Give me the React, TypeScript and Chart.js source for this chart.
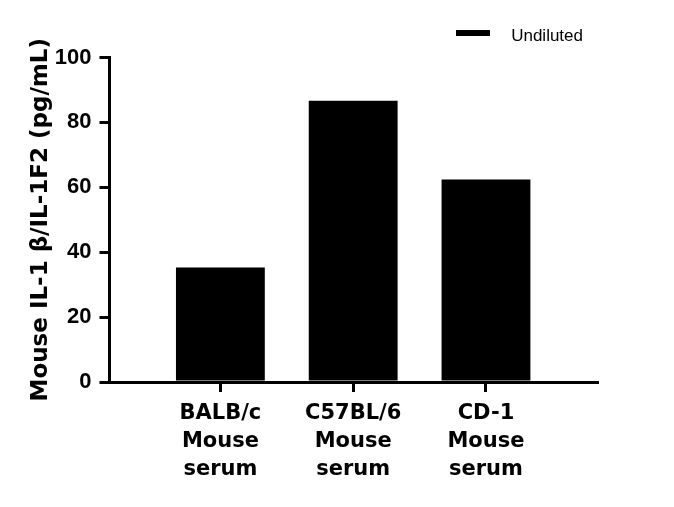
import React, { useEffect, useRef } from "react";
import { Chart, registerables } from "chart.js";

Chart.register(...registerables);

const categories: string[][] = [
  ["BALB/c", "Mouse", "serum"],
  ["C57BL/6", "Mouse", "serum"],
  ["CD-1", "Mouse", "serum"],
];
const values: number[] = [35.3, 86.7, 62.4];
const yTickValues: number[] = [0, 20, 40, 60, 80, 100];
const seriesName = "Undiluted";
const yTitle = "Mouse IL-1 β/IL-1F2 (pg/mL)";

export default function App() {
  const ref = useRef<HTMLCanvasElement | null>(null);

  useEffect(() => {
    if (!ref.current) return;
    const swatch = document.createElement("canvas");
    swatch.width = 34;
    swatch.height = 12;
    const sctx = swatch.getContext("2d");
    if (sctx) {
      sctx.fillStyle = "#000";
      sctx.fillRect(0, 0, 34, 6);
    }

    const chart = new Chart(ref.current, {
      type: "bar",
      data: {
        datasets: [
          {
            label: seriesName,
            xAxisID: "x",
            yAxisID: "y",
            data: values.map((v, i) => ({ x: i, y: v })),
            backgroundColor: "#000",
            borderWidth: 0,
            barPercentage: 0.669,
            categoryPercentage: 1,
          },
        ],
      },
      options: {
        responsive: false,
        animation: false,
        devicePixelRatio: 1,
        layout: { padding: { top: 13.5, right: 77, bottom: 0, left: 0 } },
        plugins: {
          tooltip: { enabled: false },
          legend: {
            display: true,
            position: "top",
            align: "end",
            fullSize: false,
            labels: {
              color: "#000",
              font: { family: "'Liberation Sans', Arial, sans-serif", size: 17 },
              usePointStyle: true,
              pointStyle: swatch as any,
              pointStyleWidth: 59,
              padding: 14,
            },
          },
        },
        scales: {
          x: {
            type: "linear",
            position: "bottom",
            min: -0.835,
            max: 2.836,
            offset: false,
            afterBuildTicks: (axis: any) => {
              axis.ticks = categories.map((_, i) => ({ value: i }));
            },
            afterFit: (scale: any) => {
              scale.height = 125;
            },
            grid: {
              offset: false,
              drawOnChartArea: false,
              drawTicks: true,
              tickLength: 10,
              lineWidth: 3,
              color: "#000",
            },
            border: { display: true, color: "#000", width: 3 },
            ticks: {
              autoSkip: false,
              maxRotation: 0,
              minRotation: 0,
              padding: 8,
              color: "#000",
              font: { family: "'DejaVu Sans', sans-serif", size: 21, weight: "bold", lineHeight: 1.32 },
              callback: (value: any) => categories[Math.round(Number(value))],
            },
          },
          spacerTop: {
            type: "linear",
            axis: "x",
            position: "top",
            display: true,
            min: 0,
            max: 1,
            afterBuildTicks: (axis: any) => {
              axis.ticks = [];
            },
            afterFit: (scale: any) => {
              scale.height = 3;
            },
            grid: { display: false, drawTicks: false },
            border: { display: false },
            ticks: { display: false },
          },
          y: {
            type: "linear",
            min: 0,
            max: 100,
            afterBuildTicks: (axis: any) => {
              axis.ticks = yTickValues.map((v) => ({ value: v }));
            },
            afterFit: (scale: any) => {
              scale.width = 109.5;
            },
            grid: {
              drawOnChartArea: false,
              drawTicks: true,
              tickLength: 10,
              lineWidth: 3,
              color: "#000",
            },
            border: { display: true, color: "#000", width: 3 },
            ticks: {
              padding: 8,
              color: "#000",
              font: { family: "'Liberation Sans', Arial, sans-serif", size: 22, weight: "bold" },
            },
            title: {
              display: true,
              text: yTitle,
              color: "#000",
              font: { family: "'DejaVu Sans', sans-serif", size: 23, weight: "bold" },
              padding: { top: 27, bottom: 0 },
            },
          },
        },
      },
    });
    return () => chart.destroy();
  }, []);

  return (
    <div style={{ position: "fixed", left: 0, top: 0, width: 674, height: 507, background: "#fff" }}>
      <canvas ref={ref} width={674} height={507} style={{ width: 674, height: 507, display: "block" }} />
    </div>
  );
}
